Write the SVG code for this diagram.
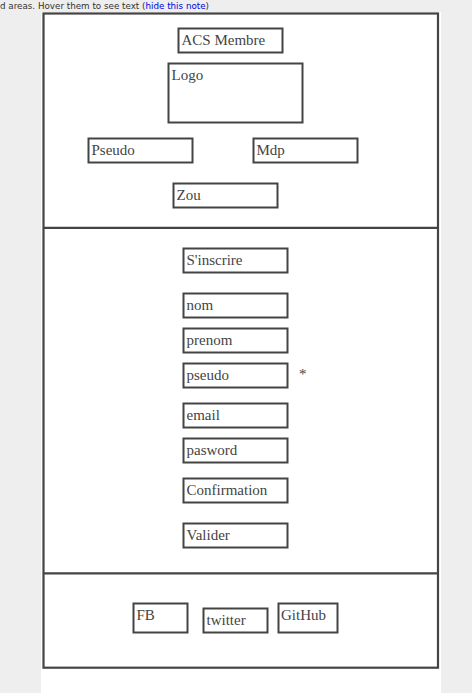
<svg xmlns="http://www.w3.org/2000/svg" width="472" height="693" viewBox="0 0 472 693">
<style>
.box{fill:#fff;stroke:#444;stroke-width:2}
.frame{fill:#fff;stroke:#444;stroke-width:2.2}
.t{font-family:"Liberation Serif","Times New Roman",serif;font-size:15px;fill:#444}
.note{font-family:"DejaVu Sans",Verdana,sans-serif;font-size:8px;fill:#333}
</style>
<rect x="0" y="0" width="472" height="693" fill="#eeeeee"/>
<rect x="41" y="12" width="400" height="681" fill="#ffffff"/>
<text class="note" x="0" y="8.5" textLength="209" lengthAdjust="spacingAndGlyphs">d areas. Hover them to see text (<tspan fill="#0000dd">hide this note</tspan>)</text>
<g id="frame">
<rect class="frame" x="43.5" y="13.5" width="394.5" height="654.2"/>
</g>
<g id="connectors">
<line x1="43.5" y1="227.8" x2="438" y2="227.8" stroke="#444" stroke-width="2.2"/>
<line x1="43.5" y1="573.3" x2="438" y2="573.3" stroke="#444" stroke-width="2.2"/>
</g>
<g id="acs-membre"><rect class="box" x="178.5" y="28.5" width="104" height="24"/><text class="t" x="181.5" y="45">ACS Membre</text></g>
<g id="logo"><rect class="box" x="168.5" y="63.5" width="134" height="59"/><text class="t" x="171.5" y="80">Logo</text></g>
<g id="pseudo-login"><rect class="box" x="88.5" y="138.5" width="104" height="24"/><text class="t" x="91.5" y="155">Pseudo</text></g>
<g id="mdp"><rect class="box" x="253.5" y="138.5" width="104" height="24"/><text class="t" x="256.5" y="155">Mdp</text></g>
<g id="zou"><rect class="box" x="173.5" y="183.5" width="104" height="24"/><text class="t" x="176.5" y="200">Zou</text></g>
<g id="sinscrire"><rect class="box" x="183.5" y="248.5" width="104" height="24"/><text class="t" x="186.5" y="265">S'inscrire</text></g>
<g id="nom"><rect class="box" x="183.5" y="293.5" width="104" height="24"/><text class="t" x="186.5" y="310">nom</text></g>
<g id="prenom"><rect class="box" x="183.5" y="328.5" width="104" height="24"/><text class="t" x="186.5" y="345">prenom</text></g>
<g id="pseudo"><rect class="box" x="183.5" y="363.5" width="104" height="24"/><text class="t" x="186.5" y="380">pseudo</text></g>
<g id="asterisk"><text class="t" x="299" y="379" font-size="13">*</text></g>
<g id="email"><rect class="box" x="183.5" y="403.5" width="104" height="24"/><text class="t" x="186.5" y="420">email</text></g>
<g id="pasword"><rect class="box" x="183.5" y="438.5" width="104" height="24"/><text class="t" x="186.5" y="455">pasword</text></g>
<g id="confirmation"><rect class="box" x="183.5" y="478.5" width="104" height="24"/><text class="t" x="186.5" y="495">Confirmation</text></g>
<g id="valider"><rect class="box" x="183.5" y="523.5" width="104" height="24"/><text class="t" x="186.5" y="540">Valider</text></g>
<g id="fb"><rect class="box" x="133.5" y="603.5" width="54" height="29"/><text class="t" x="136.5" y="620">FB</text></g>
<g id="twitter"><rect class="box" x="203.5" y="608.5" width="64" height="24"/><text class="t" x="206.5" y="625">twitter</text></g>
<g id="github"><rect class="box" x="278.5" y="603.5" width="59" height="29"/><text class="t" x="281" y="620">GitHub</text></g>
</svg>
